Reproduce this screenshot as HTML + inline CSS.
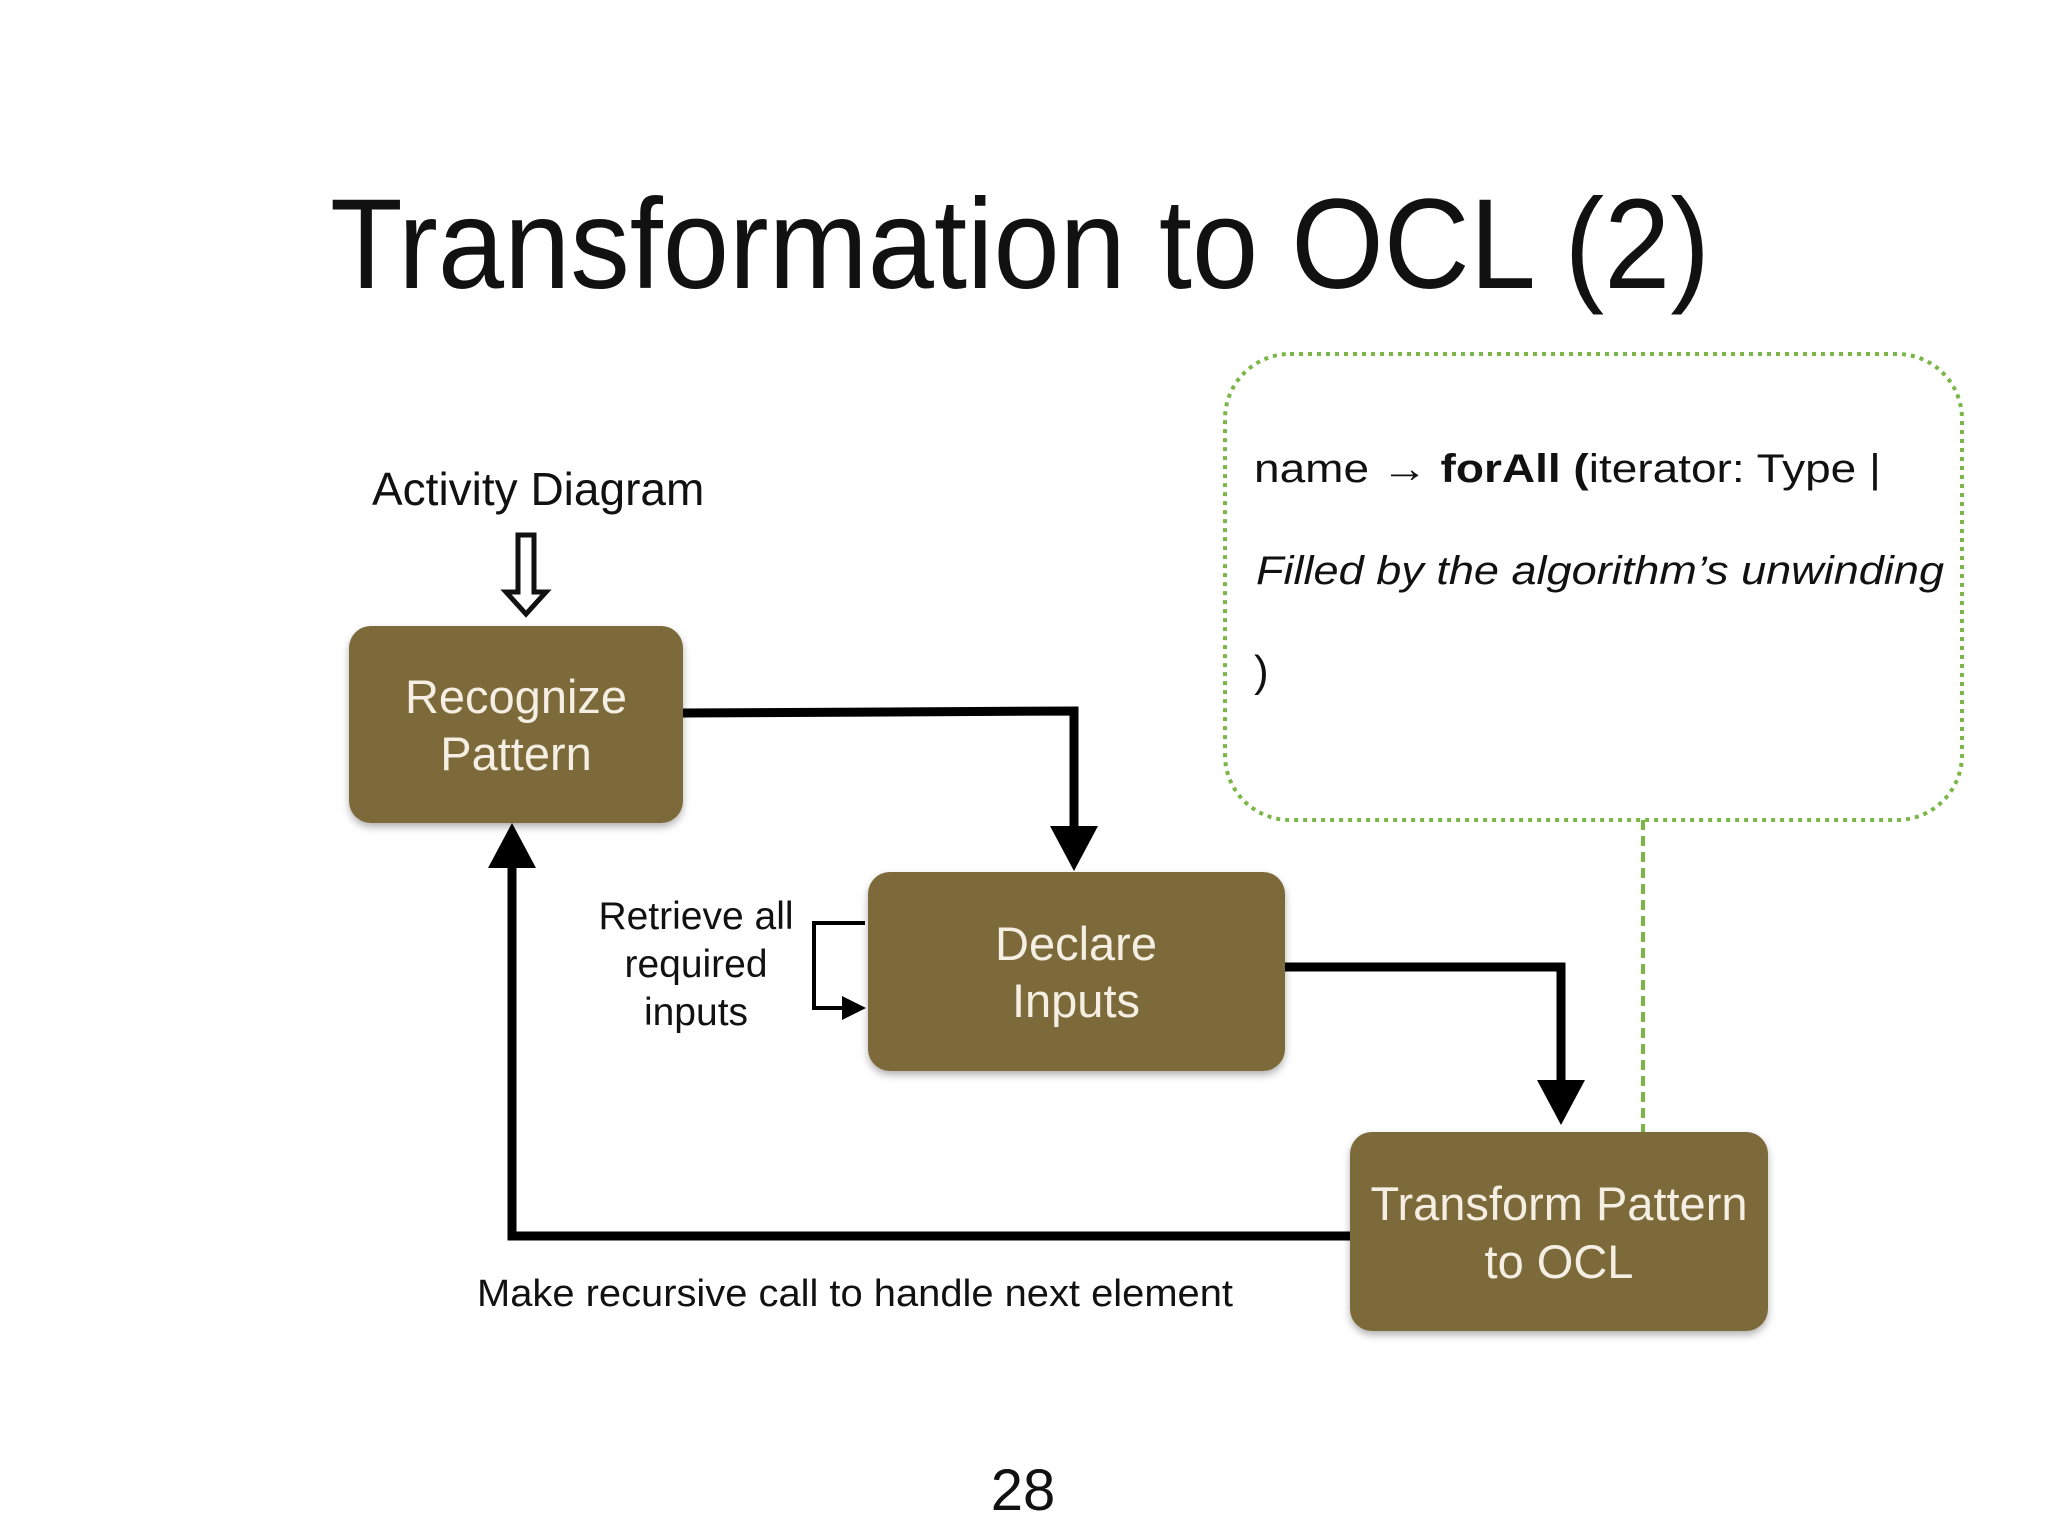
<!DOCTYPE html>
<html><head><meta charset="utf-8"><style>
html,body{margin:0;padding:0;background:#fff;}
svg{display:block;}
text{font-family:"Liberation Sans",sans-serif;}
</style></head><body>
<svg width="2048" height="1536" viewBox="0 0 2048 1536" xmlns="http://www.w3.org/2000/svg">
<defs>
<filter id="sh" x="-10%" y="-10%" width="130%" height="130%"><feDropShadow dx="0" dy="4" stdDeviation="4" flood-color="#000" flood-opacity="0.3"/></filter>
</defs>
<rect width="2048" height="1536" fill="#fff"/>
<text x="330" y="288" font-size="128" fill="#111" textLength="1380" lengthAdjust="spacingAndGlyphs">Transformation to OCL (2)</text>

<rect x="1225" y="354" width="737" height="466" rx="65" fill="none" stroke="#7ab648" stroke-width="4" stroke-dasharray="4,5"/>
<line x1="1643" y1="820" x2="1643" y2="1132" stroke="#7ab648" stroke-width="4" stroke-dasharray="10,6"/>
<text x="1254" y="482" font-size="40" fill="#111" textLength="627" lengthAdjust="spacingAndGlyphs">name  →  <tspan font-weight="bold">forAll</tspan>  <tspan font-weight="bold">(</tspan>iterator:  Type |</text>
<text x="1256" y="584" font-size="40" fill="#111" font-style="italic" textLength="688" lengthAdjust="spacingAndGlyphs">Filled by the algorithm’s unwinding</text>
<text x="1254" y="686" font-size="44" fill="#111">)</text>

<text x="372" y="505" font-size="46" fill="#111">Activity Diagram</text>
<path d="M518 535 L534 535 L534 592 L546 592 L526 614 L506 592 L518 592 Z" fill="#fff" stroke="#111" stroke-width="5" stroke-linejoin="miter"/>

<g fill="none" stroke="#000" stroke-width="9">
<polyline points="683,713 1074,711 1074,832"/>
<polyline points="1285,967 1561,967 1561,1086"/>
<polyline points="1350,1236 512,1236 512,862"/>
</g>
<polygon points="1050,826 1098,826 1074,871" fill="#000"/>
<polygon points="1537,1080 1585,1080 1561,1125" fill="#000"/>
<polygon points="488,868 536,868 512,823" fill="#000"/>
<polyline points="865,923 814,923 814,1008 850,1008" fill="none" stroke="#000" stroke-width="4"/>
<polygon points="842,996 866,1008 842,1020" fill="#000"/>

<g filter="url(#sh)" fill="#7d6a3b">
<rect x="349" y="626" width="334" height="197" rx="22"/>
<rect x="868" y="872" width="417" height="199" rx="22"/>
<rect x="1350" y="1132" width="418" height="199" rx="22"/>
</g>
<g font-size="47" fill="#f4efe2" text-anchor="middle">
<text x="516" y="713">Recognize</text>
<text x="516" y="770">Pattern</text>
<text x="1076" y="960">Declare</text>
<text x="1076" y="1017">Inputs</text>
<text x="1559" y="1220">Transform Pattern</text>
<text x="1559" y="1278">to OCL</text>
</g>

<g font-size="39" fill="#111" text-anchor="middle">
<text x="696" y="929">Retrieve all</text>
<text x="696" y="977">required</text>
<text x="696" y="1025">inputs</text>
</g>
<text x="477" y="1306" font-size="38" fill="#111" textLength="756" lengthAdjust="spacingAndGlyphs">Make recursive call to handle next element</text>
<text x="1023" y="1510" font-size="58" fill="#111" text-anchor="middle">28</text>
</svg>
</body></html>
